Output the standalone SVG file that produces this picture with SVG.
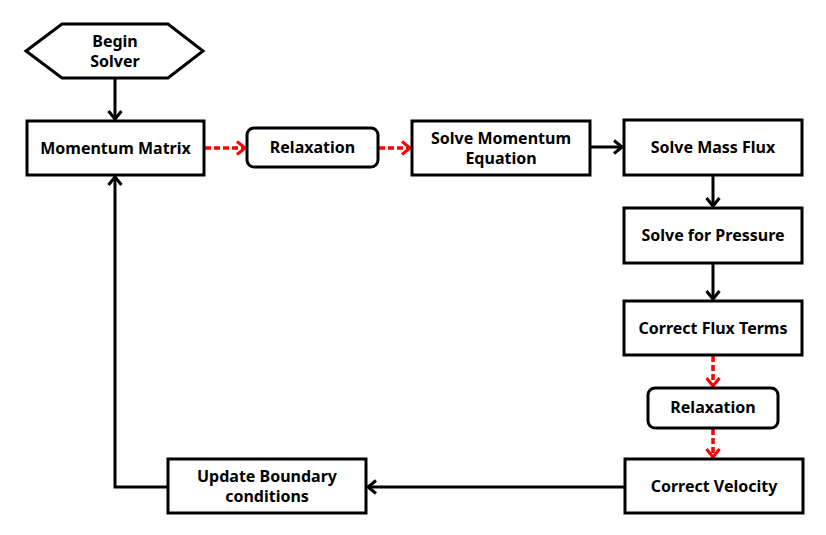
<svg xmlns="http://www.w3.org/2000/svg" width="826" height="535" viewBox="0 0 826 535">
<style>
.box{fill:#fff;stroke:#000;stroke-width:3}
.t{font-family:"Noto Sans","Open Sans","DejaVu Sans",sans-serif;font-weight:700;font-size:16px;fill:#000;text-anchor:middle}
.c{fill:none;stroke:#000;stroke-width:3}
.r{fill:none;stroke:#ff0000;stroke-width:3.5;stroke-dasharray:6,3}
</style>
<defs>
<marker id="ab" markerUnits="userSpaceOnUse" markerWidth="14" markerHeight="16" refX="11" refY="8" orient="auto">
<path d="M3,1.5 L11,8 L3,14.5" fill="none" stroke="#000" stroke-width="3"/>
</marker>
<marker id="ar" markerUnits="userSpaceOnUse" markerWidth="14" markerHeight="16" refX="11" refY="8" orient="auto">
<path d="M3,1.5 L11,8 L3,14.5" fill="none" stroke="#ff0000" stroke-width="3"/>
</marker>
</defs>
<rect width="826" height="535" fill="#fff"/>
<g id="connectors">
<line class="c" x1="115" y1="78" x2="115" y2="119" marker-end="url(#ab)"/>
<line class="r" x1="205" y1="148" x2="245" y2="148" marker-end="url(#ar)"/>
<line class="r" x1="379" y1="148" x2="410" y2="148" marker-end="url(#ar)"/>
<line class="c" x1="591" y1="147" x2="622" y2="147" marker-end="url(#ab)"/>
<line class="c" x1="713" y1="176" x2="713" y2="206" marker-end="url(#ab)"/>
<line class="c" x1="713" y1="264" x2="713" y2="299" marker-end="url(#ab)"/>
<line class="r" x1="713" y1="356" x2="713" y2="386" marker-end="url(#ar)"/>
<line class="r" x1="713" y1="429" x2="713" y2="457" marker-end="url(#ar)"/>
<line class="c" x1="624" y1="487" x2="368" y2="487" marker-end="url(#ab)"/>
<polyline class="c" points="167,487 115,487 115,177" marker-end="url(#ab)"/>
</g>
<g id="begin">
<polygon class="box" points="26,51 62,24 168,24 203,51 168,78 62,78"/>
<text class="t" x="115" y="47">Begin</text>
<text class="t" x="115" y="67">Solver</text>
</g>
<g id="momentum-matrix">
<rect class="box" x="27" y="121" width="177" height="54"/>
<text class="t" x="115.5" y="154">Momentum Matrix</text>
</g>
<g id="relaxation1">
<rect class="box" x="247" y="128" width="131" height="39" rx="7"/>
<text class="t" x="312.5" y="153">Relaxation</text>
</g>
<g id="solve-momentum">
<rect class="box" x="412" y="121" width="178" height="54"/>
<text class="t" x="501" y="144">Solve Momentum</text>
<text class="t" x="501" y="164">Equation</text>
</g>
<g id="solve-mass-flux">
<rect class="box" x="624" y="120" width="178" height="55"/>
<text class="t" x="713" y="153">Solve Mass Flux</text>
</g>
<g id="solve-pressure">
<rect class="box" x="624" y="208" width="178" height="55"/>
<text class="t" x="713" y="241">Solve for Pressure</text>
</g>
<g id="correct-flux">
<rect class="box" x="624" y="301" width="178" height="54"/>
<text class="t" x="713" y="334">Correct Flux Terms</text>
</g>
<g id="relaxation2">
<rect class="box" x="648" y="388" width="130" height="40" rx="7"/>
<text class="t" x="713" y="413">Relaxation</text>
</g>
<g id="correct-velocity">
<rect class="box" x="625" y="459" width="178" height="54"/>
<text class="t" x="714" y="492">Correct Velocity</text>
</g>
<g id="update-boundary">
<rect class="box" x="168" y="459" width="198" height="54"/>
<text class="t" x="267" y="482">Update Boundary</text>
<text class="t" x="267" y="502">conditions</text>
</g>
</svg>
